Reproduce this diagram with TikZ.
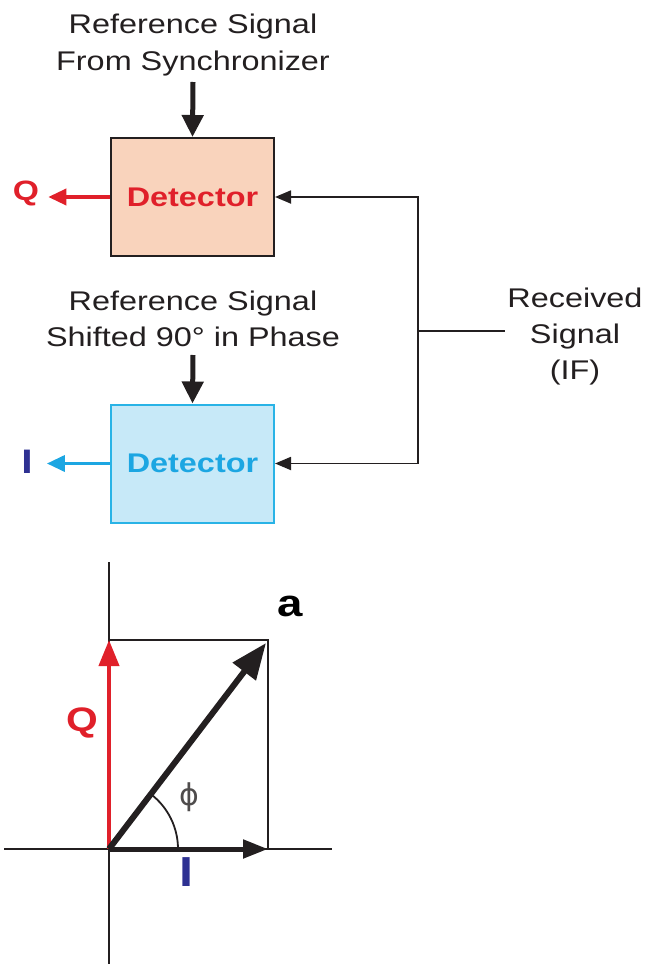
\documentclass[tikz,border=0pt]{standalone}
\usepackage{fontspec}
\setmainfont{Liberation Sans}[FakeStretch=1.2]
\newfontfamily\phifont{DejaVu Sans}
\usetikzlibrary{arrows.meta}
\definecolor{txt}{HTML}{231F20}
\definecolor{peach}{HTML}{F9D3BC}
\definecolor{lblue}{HTML}{C7E9F8}
\definecolor{cyanb}{HTML}{29B3E6}
\definecolor{cyant}{HTML}{1CA6E2}
\definecolor{qred}{HTML}{E0202A}
\definecolor{iblue}{HTML}{2E3192}
\tikzset{
  lbl/.style={inner sep=0pt, text=txt, font=\fontsize{27}{32}\selectfont},
  detbox/.style={draw, line width=2pt, minimum width=163pt, minimum height=118pt, inner sep=0pt,
    font=\bfseries\fontsize{27}{32}\selectfont},
  bigarr/.style={draw=txt, line width=5pt, -{Triangle[length=22pt,width=21pt]}},
  outarr/.style={line width=3.5pt, -{Triangle[length=18pt,width=16pt]}},
  conn/.style={draw=txt, line width=1.8pt},
  axis/.style={draw=txt, line width=1.8pt},
}
\begin{document}
\begin{tikzpicture}[x=1pt,y=-1pt]
\useasboundingbox (0,0) rectangle (647,964);
% top block
\node[lbl, anchor=base] (t1a) at (193,33) {Reference Signal};
\node[lbl, anchor=base] (t1b) at (193,70) {From Synchronizer};
\node[detbox, draw=txt, fill=peach, text=qred] (d1) at (192.5,197) {Detector};
\node[inner sep=0pt, text=qred, font=\bfseries\fontsize{28}{32}\selectfont] (q1) at (26,193) {Q};
\draw[bigarr] ([yshift=-12pt]t1b.base) -- (d1.north);
\draw[outarr, qred, shorten >=9pt] (d1.west) -- (q1.east |- d1.west);
% second block
\node[lbl, anchor=base] (t2a) at (193,310) {Reference Signal};
\node[lbl, anchor=base] (t2b) at (193,346) {Shifted 90° in Phase};
\node[detbox, draw=cyanb, fill=lblue, text=cyant] (d2) at (192.5,463.5) {Detector};
\node[inner sep=0pt, text=iblue, font=\bfseries\fontsize{34}{36}\selectfont] (i1) at (27,462) {I};
\draw[bigarr] ([yshift=-9pt]t2b.base) -- (d2.north);
\draw[outarr, cyant, shorten >=14pt] (d2.west) -- (i1.east |- d2.west);
% received signal
\node[lbl, anchor=base] (r1) at (575,307) {Received};
\node[lbl, anchor=base] (r2) at (575,343) {Signal};
\node[lbl, anchor=base] (r3) at (575,379) {(IF)};
\coordinate (jt) at (418,197);
\coordinate (jb) at (418,463.5);
\coordinate (jm) at (418,331);
\draw[conn, line join=miter, {Triangle[length=16pt,width=13pt]}-{Triangle[length=16pt,width=13pt]}]
  (d1.east) -- (jt) -- (jb) -- (d2.east);
\draw[conn] (jm) -- ([xshift=-2pt]jm -| r1.west);
% phasor diagram
\coordinate (O) at (109,849);
\coordinate (A) at (268,640);
\draw[axis] (109,562) -- (109,964);
\draw[axis] (4,849) -- (332,849);
\draw[axis, line join=miter] (O |- A) -- (A) -- (A |- O);
\draw[txt, line width=1.8pt] ([xshift=69pt]O) arc[start angle=0, end angle=52.7, radius=69pt];
\draw[qred, line width=4pt, -{Triangle[length=26pt,width=20pt]}] (O) -- (O |- A);
\draw[txt, line width=5pt, -{Triangle[length=25pt,width=18pt]}] (O) -- (A |- O);
\draw[txt, line width=6pt, -{Triangle[length=36pt,width=28pt]}] (O) -- ([xshift=-2pt,yshift=-3pt]A);
\node[inner sep=0pt, text=qred, font=\bfseries\fontsize{34}{36}\selectfont] (q2) at (82,723) {Q};
\node[inner sep=0pt, text=iblue, font=\bfseries\fontsize{42}{44}\selectfont] (i2) at (186,872) {I};
\node[inner sep=0pt, text=txt!80, font=\phifont\fontsize{30}{32}\selectfont] (phi) at (189,797) {ϕ};
\node[inner sep=0pt, text=black, font=\bfseries\fontsize{38}{40}\selectfont] (a) at (290,606) {a};
\end{tikzpicture}
\end{document}
